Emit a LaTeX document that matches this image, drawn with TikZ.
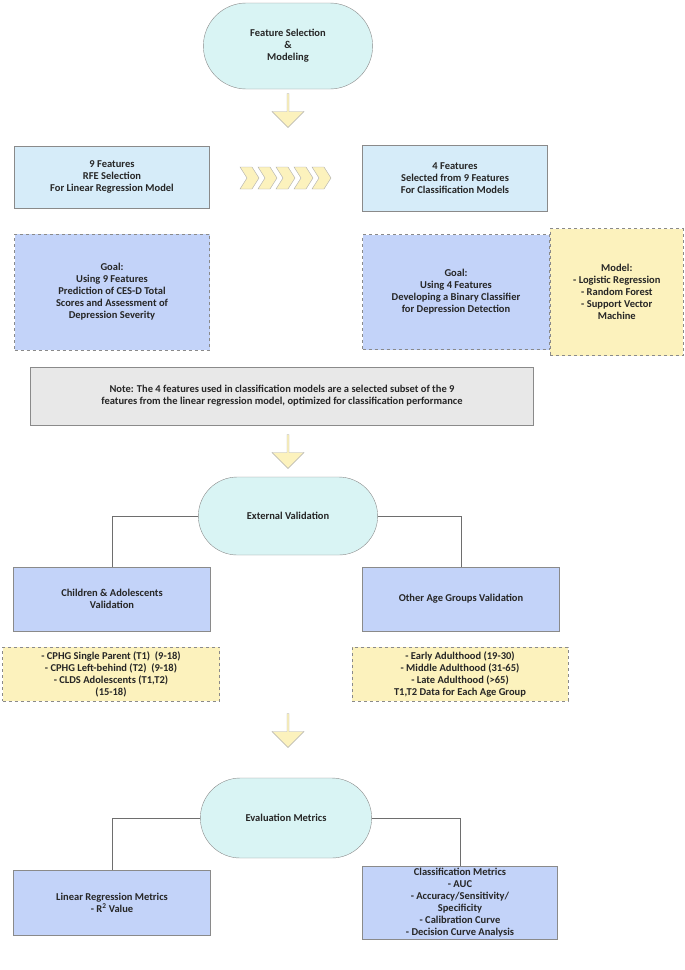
\documentclass[tikz,border=0pt]{standalone}
\usepackage{fontspec}
\setmainfont{Carlito}
\usetikzlibrary{positioning, shapes, arrows.meta, calc}
\definecolor{pillfill}{HTML}{D9F4F4}
\definecolor{lightblue}{HTML}{D6ECF9}
\definecolor{goalblue}{HTML}{C3D3F9}
\definecolor{paleyellow}{HTML}{FCF2BD}
\definecolor{notegray}{HTML}{E8E8E8}
\definecolor{edgegray}{HTML}{8A8A8A}
\tikzset{
  txt/.style={align=center, font=\fontsize{10.5}{12}\selectfont\bfseries, text=black!85},
  pill/.style={txt, rounded rectangle, draw=edgegray, fill=pillfill, minimum width=180pt, minimum height=76pt},
  box/.style={txt, rectangle, draw=edgegray, minimum height=62pt},
  dbox/.style={box, dashed, thick},
  bigarrow/.style={single arrow, draw=edgegray!70, fill=paleyellow, rotate=-90, minimum height=34pt, minimum width=32pt, single arrow head extend=3pt, inner sep=0pt}
}
\begin{document}
\begin{tikzpicture}[x=1pt, y=-1pt]
                  \useasboundingbox (0,0) rectangle (685,970);
                  % Nodes
                  \node[pill, minimum width=176pt, minimum height=86pt] (featsel) at (288,46) {Feature Selection\\\&\\Modeling};
                  \node[bigarrow] (arrowA) at (288,110) {};
                  \node[box, fill=lightblue, minimum width=195pt] (nine) at (112,177) {9 Features\\RFE Selection\\For Linear Regression Model};
                  \node[box, fill=lightblue, minimum width=185pt, minimum height=66pt] (four) at (455,178) {4 Features\\Selected from 9 Features\\For Classification Models};
                  \node[dbox, fill=goalblue, minimum width=195pt, minimum height=116pt] (goalnine) at (112,292) {Goal:\\Using 9 Features\\Prediction of CES-D Total\\Scores and Assessment of\\Depression Severity};
                  \node[dbox, fill=goalblue, minimum width=187pt, minimum height=115pt] (goalfour) at (456,292) {Goal:\\Using 4 Features\\Developing a Binary Classifier\\for Depression Detection};
                  \node[dbox, fill=paleyellow, minimum width=133pt, minimum height=127pt, anchor=west] (model) at (goalfour.east) {Model:\\- Logistic Regression\\- Random Forest\\- Support Vector\\Machine};
                  \node[box, fill=notegray, minimum width=503pt, minimum height=58pt] (note) at (282,396) {Note: The 4 features used in classification models are a selected subset of the 9\\features from the linear regression model, optimized for classification performance};
                  \node[bigarrow] (arrowB) at (288,451) {};
                  \node[pill, minimum width=186pt, minimum height=78pt] (extval) at (288,516) {External Validation};
                  \node[box, fill=goalblue, minimum width=197pt, minimum height=64pt] (child) at (112,599) {Children \& Adolescents\\Validation};
                  \node[box, fill=goalblue, minimum width=197pt, minimum height=64pt] (other) at (461,599) {Other Age Groups Validation};
                  \node[dbox, fill=paleyellow, minimum width=217pt, minimum height=54pt] (childsets) at (111,674) {- CPHG Single Parent (T1)~ (9-18)\\- CPHG Left-behind (T2)~ (9-18)\\- CLDS Adolescents (T1,T2)\\(15-18)};
                  \node[dbox, fill=paleyellow, minimum width=216pt, minimum height=54pt] (othersets) at (460,674) {- Early Adulthood (19-30)\\- Middle Adulthood (31-65)\\- Late Adulthood (>65)\\T1,T2 Data for Each Age Group};
                  \node[bigarrow] (arrowC) at (288,730) {};
                  \node[pill, minimum width=178pt, minimum height=80pt] (evalm) at (286,818) {Evaluation Metrics};
                  \node[box, fill=goalblue, minimum width=197pt, minimum height=65pt] (linm) at (112,903) {Linear Regression Metrics\\- R\textsuperscript{2} Value};
                  \node[box, fill=goalblue, minimum width=195pt, minimum height=73pt, inner sep=1pt] (clsm) at (460,903) {Classification Metrics\\- AUC\\- Accuracy/Sensitivity/\\Specificity\\- Calibration Curve\\- Decision Curve Analysis};

                  % Chevrons
                  \foreach \k in {0,...,4}
                  \draw[edgegray!70, fill=paleyellow] ({240+18*\k},167) -- ++(12,0) -- ++(7,11) -- ++(-7,11) -- ++(-12,0) -- ++(7,-11) -- cycle;

                  % Connectors
                  \draw[edgegray!80!black] (extval.west) -| (child.north);
                  \draw[edgegray!80!black] (extval.east) -| (other.north);
                  \draw[edgegray!80!black] (evalm.west) -| (linm.north);
                  \draw[edgegray!80!black] (evalm.east) -| (clsm.north);
              \end{tikzpicture}
\end{document}
